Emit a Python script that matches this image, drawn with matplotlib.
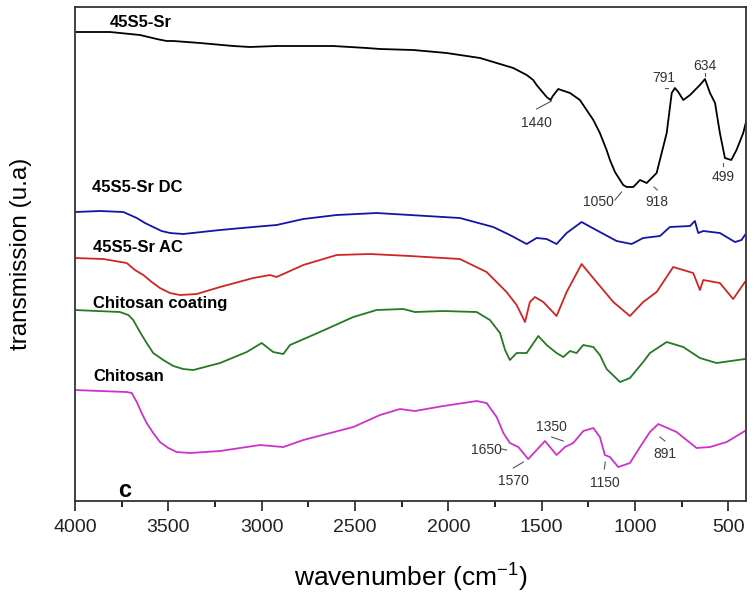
import matplotlib
matplotlib.use("Agg")
import matplotlib.pyplot as plt

plt.rcParams['font.family'] = ['Liberation Sans', 'DejaVu Sans']

# FTIR spectra, offset transmission in arbitrary units
wn_sr = [4000, 3812, 3759, 3652, 3562, 3509, 3473, 3330, 3152, 3063, 2920, 2795,
         2618, 2437, 2366, 2188, 2009, 1830, 1652, 1580, 1545, 1527, 1473, 1452,
         1440, 1411, 1348, 1295, 1259, 1223, 1188, 1152, 1134, 1107, 1080, 1063,
         1044, 1009, 973, 937, 884, 830, 803, 786, 768, 741, 705, 652, 625, 598,
         571, 545, 518, 484, 456, 420, 405]
t_sr = [469, 469, 468, 466, 462, 460, 460, 458, 455, 454, 455, 455,
        455, 453, 452, 451, 448, 443, 433, 426, 421, 416, 404, 401,
        405, 412, 408, 401, 391, 381, 368, 351, 341, 329, 321, 316,
        314, 314, 321, 318, 328, 368, 408, 413, 409, 401, 406, 416, 422, 408,
        398, 368, 343, 341, 351, 368, 379]

wn_dc = [4000, 3866, 3741, 3705, 3669, 3625, 3581, 3536, 3491, 3420, 3223, 3045,
         2920, 2777, 2598, 2384, 2205, 1938, 1759, 1670, 1580, 1527, 1473, 1420,
         1366, 1286, 1188, 1098, 1018, 956, 866, 813, 705, 679, 661, 634, 545,
         464, 429, 411]
t_dc = [289, 290, 289, 286, 283, 278, 274, 270, 268, 267, 271, 274,
        276, 282, 286, 288, 286, 283, 274, 266, 257, 263, 262, 257,
        268, 279, 269, 260, 257, 263, 265, 274, 275, 280, 268, 270, 268,
        259, 261, 266]

wn_ac = [4000, 3848, 3723, 3679, 3634, 3589, 3545, 3491, 3438, 3348, 3223, 3045,
         2955, 2920, 2777, 2598, 2420, 2205, 1938, 1795, 1688, 1634, 1589, 1563,
         1536, 1491, 1420, 1366, 1286, 1206, 1116, 1027, 956, 884, 795, 688, 652,
         634, 545, 474, 411]
t_ac = [243, 242, 238, 231, 226, 219, 213, 208, 206, 207, 214, 223,
        226, 224, 236, 246, 247, 245, 242, 229, 209, 196, 179, 199,
        204, 199, 185, 209, 237, 219, 199, 185, 199, 209, 234, 228, 211,
        221, 218, 202, 219]

wn_coat = [4000, 3759, 3714, 3688, 3652, 3616, 3581, 3527, 3473, 3420, 3366, 3223,
           3080, 3000, 2938, 2884, 2848, 2688, 2509, 2384, 2241, 2179, 2027, 1848,
           1777, 1723, 1696, 1670, 1634, 1580, 1518, 1473, 1420, 1384, 1348, 1313,
           1277, 1223, 1188, 1152, 1080, 1027, 956, 920, 830, 741, 652, 563, 411]
t_coat = [191, 189, 186, 181, 169, 158, 148, 141, 135, 132, 131, 138,
          149, 158, 149, 147, 156, 169, 184, 191, 192, 189, 190, 189,
          181, 168, 151, 141, 148, 148, 165, 156, 148, 144, 150, 148,
          156, 154, 146, 132, 119, 123, 139, 148, 159, 154, 143, 138, 142]

wn_chi = [4000, 3723, 3696, 3669, 3643, 3616, 3581, 3545, 3500, 3455, 3384, 3223,
          3009, 2884, 2777, 2509, 2366, 2259, 2179, 2027, 1848, 1795, 1741, 1705,
          1670, 1625, 1572, 1527, 1482, 1420, 1375, 1331, 1277, 1223, 1188, 1161,
          1134, 1090, 1027, 973, 920, 875, 777, 670, 598, 509, 411]
t_chi = [111, 109, 108, 99, 88, 78, 68, 59, 53, 49, 48, 50,
         56, 54, 61, 74, 86, 92, 90, 95, 100, 98, 84, 68,
         58, 54, 42, 51, 60, 46, 54, 58, 70, 73, 64, 46,
         44, 34, 38, 54, 69, 77, 69, 53, 54, 59, 70]

fig = plt.figure(figsize=(7.56, 5.93), dpi=100)
ax = fig.add_axes([0.0992, 0.1551, 0.8876, 0.8331])

ax.plot(wn_sr, t_sr, color='black', lw=1.3)
ax.plot(wn_dc, t_dc, color='#1414a8', lw=1.3)
ax.plot(wn_ac, t_ac, color='#d02525', lw=1.3)
ax.plot(wn_coat, t_coat, color='#237a23', lw=1.3)
ax.plot(wn_chi, t_chi, color='#cc33cc', lw=1.3)

ax.set_xlim(4000, 405)
ax.set_ylim(0, 494)
ax.set_xticks([4000, 3500, 3000, 2500, 2000, 1500, 1000, 500])
ax.set_xticks([3750, 3250, 2750, 2250, 1750, 1250, 750], minor=True)
ax.set_yticks([])
ax.tick_params(axis='x', which='major', direction='out', length=7, width=1.2,
               labelsize=14, pad=6, colors='#222222')
ax.tick_params(axis='x', which='minor', direction='out', length=4, width=1.2)
for s in ax.spines.values():
    s.set_linewidth(1.3)
    s.set_color('#333333')

ax.set_xlabel('wavenumber (cm$^{\\mathregular{-1}}$)', fontsize=19, labelpad=17)
ax.set_ylabel('transmission (u.a)', fontsize=17.5, labelpad=31)

# series names
lab = dict(fontsize=12, fontweight='bold', ha='left', va='center')
ax.text(3812, 478, '45S5-Sr', **lab)
ax.text(3911, 314, '45S5-Sr DC', **lab)
ax.text(3905, 254, '45S5-Sr AC', **lab)
ax.text(3902, 198, 'Chitosan coating', **lab)
ax.text(3902, 125, 'Chitosan', **lab)
ax.text(3770, 11, 'c', fontsize=17, fontweight='bold', ha='left', va='center')

# band assignments with leader lines
peaks = [('1440', 1527, 378, (1527, 392), (1447, 400)),
         ('1050', 1197, 299, (1107, 301), (1072, 309)),
         ('918', 884, 299, (898, 314), (880, 311)),
         ('791', 848, 423, (839, 413), (823, 413)),
         ('634', 625, 435, (625, 428), (625, 425)),
         ('499', 527, 324, (527, 338), (527, 335)),
         ('1650', 1798, 51, (1714, 52), (1688, 51)),
         ('1570', 1652, 20, (1652, 33), (1598, 39)),
         ('1350', 1446, 74, (1446, 64), (1384, 60)),
         ('1150', 1161, 18, (1164, 32), (1159, 39)),
         ('891', 839, 47, (866, 64), (839, 60))]
for txt, x, y, p0, p1 in peaks:
    ax.text(x, y, txt, fontsize=10, color='#333333', ha='center', va='center')
    ax.plot([p0[0], p1[0]], [p0[1], p1[1]], color='#555555', lw=0.8)

fig.savefig('out.png', dpi=100)
